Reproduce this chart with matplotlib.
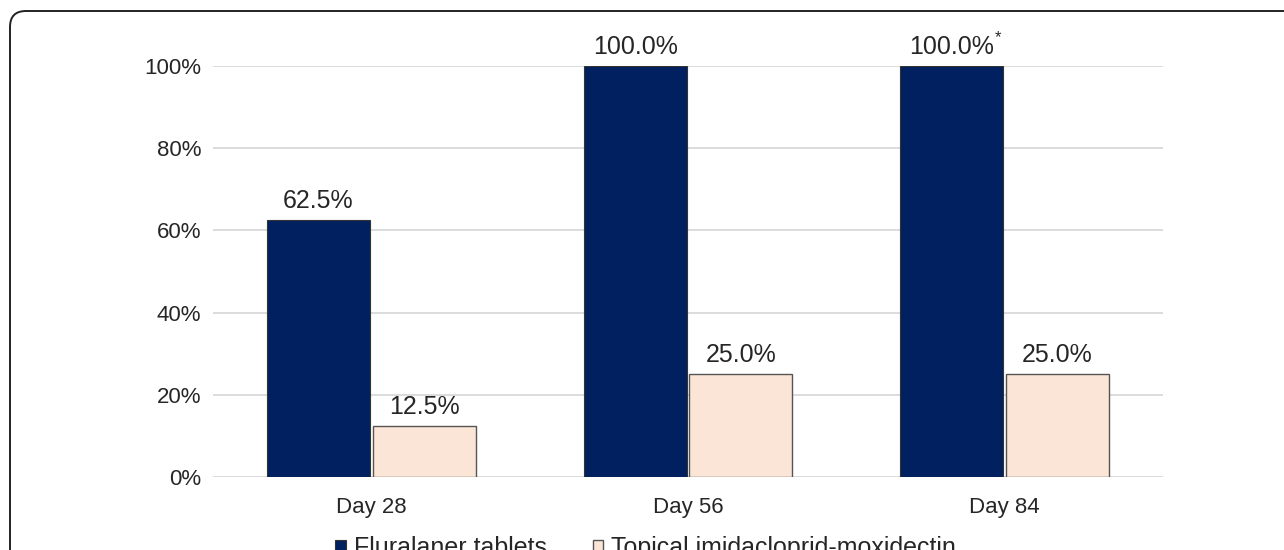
import numpy as np
import matplotlib.pyplot as plt
from matplotlib.patches import FancyBboxPatch
from matplotlib.transforms import IdentityTransform

plt.switch_backend('Agg')
plt.rcParams['font.family'] = ['Liberation Sans', 'DejaVu Sans']

# Data
days = ['Day 28', 'Day 56', 'Day 84']
fluralaner = [62.5, 100.0, 100.0]
topical = [12.5, 25.0, 25.0]
fluralaner_notes = ['', '', '*']
series_names = ['Fluralaner tablets', 'Topical imidacloprid-moxidectin']
yticks = [0, 20, 40, 60, 80, 100]

navy = '#002060'
peach = '#FBE5D6'
text_col = '#262626'

fig = plt.figure(figsize=(12.84, 5.5), dpi=100)
ax = fig.add_axes([213 / 1284, 1 - 477 / 550, 950 / 1284, 411 / 550])

x = np.arange(len(days))
w = 0.325
b1 = ax.bar(x - 0.167, fluralaner, w, color=navy, edgecolor='#333333', linewidth=0.8, zorder=3,
            label=series_names[0])
b2 = ax.bar(x + 0.167, topical, w, color=peach, edgecolor='#555555', linewidth=1.0, zorder=3,
            label=series_names[1])

# value labels
for bars, vals in ((b1, fluralaner), (b2, topical)):
    for rect, v in zip(bars, vals):
        ax.annotate(f'{v:.1f}%', (rect.get_x() + rect.get_width() / 2, v),
                    xytext=(0, 5), textcoords='offset points', ha='center', va='bottom',
                    fontsize=18, color=text_col, annotation_clip=False)
for rect, v, n in zip(b1, fluralaner, fluralaner_notes):
    if n:
        ax.annotate(n, (rect.get_x() + rect.get_width() / 2, v),
                    xytext=(33, 15), textcoords='offset points', ha='center', va='bottom',
                    fontsize=12, color=text_col, annotation_clip=False)

ax.set_xlim(-0.5, 2.5)
ax.set_ylim(0, 100)
ax.set_yticks(yticks)
ax.set_yticklabels([f'{t}%' for t in yticks])
ax.set_xticks(x)
ax.set_xticklabels(days)
ax.tick_params(axis='y', length=0, pad=8.6, labelsize=16, labelcolor=text_col)
ax.tick_params(axis='x', length=0, pad=14.5, labelsize=16, labelcolor=text_col)
ax.grid(axis='y', color='#DCDCDC', linewidth=1.4, zorder=0)
ax.set_axisbelow(True)
for s in ax.spines.values():
    s.set_visible(False)

fig.legend(handles=[b1, b2], loc='center left', bbox_to_anchor=(335 / 1284, 1 - 548 / 550), ncol=2,
           frameon=False, fontsize=18, handlelength=0.42, handleheight=0.42, borderpad=0,
           borderaxespad=0, handletextpad=0.32, columnspacing=1.85, labelcolor=text_col)

# rounded frame, cut by the right and bottom edges
frame = FancyBboxPatch((10, -30), 1320, 550 - 11 + 30, boxstyle='round,pad=0,rounding_size=16',
                       transform=IdentityTransform(), facecolor='none', edgecolor='#222222',
                       linewidth=1.4, zorder=0)
fig.patches.append(frame)

plt.savefig('out.png', dpi=100)
